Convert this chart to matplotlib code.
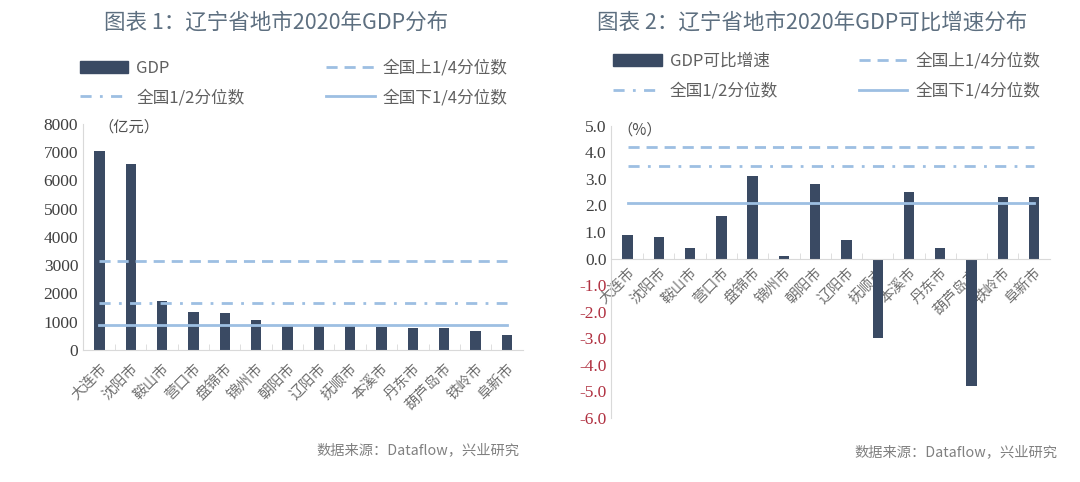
import numpy as np
import matplotlib.pyplot as plt
from matplotlib.lines import Line2D
from matplotlib.patches import Patch

plt.rcParams['font.family'] = ['Noto Sans CJK SC', 'DejaVu Sans']

cities = ['大连市', '沈阳市', '鞍山市', '营口市', '盘锦市', '锦州市', '朝阳市',
          '辽阳市', '抚顺市', '本溪市', '丹东市', '葫芦岛市', '铁岭市', '阜新市']
gdp = [7030, 6572, 1739, 1326, 1304, 1073, 885, 832, 840, 810, 787, 780, 682, 520]
gdp_q = [3130, 1660, 880]          # 上1/4, 1/2, 下1/4
growth = [0.9, 0.8, 0.4, 1.6, 3.1, 0.1, 2.8, 0.7, -3.0, 2.5, 0.4, -4.8, 2.3, 2.3]
growth_q = [4.2, 3.5, 2.1]

bar_c = '#3a4a63'
line_c = '#9dbfe2'
spine_c = '#d9d9d9'
title_c = '#5d6f80'
serif = ['Liberation Serif', 'DejaVu Serif']

fig = plt.figure(figsize=(10.8, 4.82), dpi=100)
ax1 = fig.add_axes([0.0769, 0.274, 0.407, 0.469])
ax2 = fig.add_axes([0.566, 0.133, 0.406, 0.606])

x = np.arange(len(cities))


def draw(ax, vals, q, label):
    ax.bar(x, vals, width=0.33, color=bar_c, zorder=2)
    ax.plot(x, [q[0]] * len(x), color=line_c, lw=2, ls=(0, (4, 2.5)), zorder=3)
    ax.plot(x, [q[1]] * len(x), color=line_c, lw=2, ls=(0, (4, 3, 1, 3)), zorder=3)
    ax.plot(x, [q[2]] * len(x), color=line_c, lw=2, zorder=3)
    ax.set_xlim(-0.52, 13.5)
    for s in ['top', 'right']:
        ax.spines[s].set_visible(False)
    for s in ['left', 'bottom']:
        ax.spines[s].set_color(spine_c)
    handles = [Patch(color=bar_c),
               Line2D([], [], color=line_c, lw=2, ls=(0, (4, 3, 1, 3))),
               Line2D([], [], color=line_c, lw=2, ls=(0, (4, 2.5))),
               Line2D([], [], color=line_c, lw=2)]
    labels = [label, '全国1/2分位数', '全国上1/4分位数', '全国下1/4分位数']
    return handles, labels


def axis_labels(ax, pad, yvals, fmt):
    ax.set_xticks(x)
    ax.set_xticks(x[:-1] + 0.5, minor=True)
    ax.tick_params(axis='x', which='major', length=0, pad=pad)
    ax.tick_params(axis='x', which='minor', length=4, direction='in', color=spine_c)
    ax.tick_params(axis='y', length=0)
    ax.set_xticklabels(cities, rotation=45, ha='right', rotation_mode='anchor',
                       fontsize=10.5, color='#707070')
    ax.set_yticks(yvals)
    ax.set_yticklabels([fmt % v for v in yvals], fontfamily=serif, fontsize=12.5,
                       color='#404040')


leg_kw = dict(ncol=2, loc='center left', frameon=False, fontsize=12,
              handlelength=2.9, handletextpad=0.5, labelspacing=0.75,
              labelcolor='#606060')

# 图表1
h, l = draw(ax1, gdp, gdp_q, 'GDP')
ax1.set_ylim(0, 8000)
axis_labels(ax1, 8, list(range(0, 8001, 1000)), '%d')
ax1.text(0.035, 0.985, '（亿元）', transform=ax1.transAxes, fontsize=11,
         color='#505050', va='center')
fig.legend(h, l, bbox_to_anchor=(0.060, 0.828), columnspacing=4.9, **leg_kw)

# 图表2
h, l = draw(ax2, growth, growth_q, 'GDP可比增速')
ax2.set_ylim(-6, 5)
ticks = np.arange(-6, 5.01, 1.0)
ax2.spines['bottom'].set_position(('data', 0))
axis_labels(ax2, 5, ticks, '%.1f')
for t, v in zip(ax2.get_yticklabels(), ticks):
    if v < 0:
        t.set_color('#b03040')
ax2.text(0.015, 0.985, '（%）', transform=ax2.transAxes, fontsize=11,
         color='#505050', va='center')
fig.legend(h, l, bbox_to_anchor=(0.554, 0.842), columnspacing=4.85, **leg_kw)

fig.text(0.256, 0.953, '图表 1：辽宁省地市2020年GDP分布', ha='center', va='center',
         fontsize=15.5, color=title_c, fontweight='medium')
fig.text(0.752, 0.953, '图表 2：辽宁省地市2020年GDP可比增速分布', ha='center', va='center',
         fontsize=15.5, color=title_c, fontweight='medium')
fig.text(0.481, 0.066, '数据来源：Dataflow，兴业研究', ha='right', va='center',
         fontsize=10.3, color='#808080')
fig.text(0.979, 0.062, '数据来源：Dataflow，兴业研究', ha='right', va='center',
         fontsize=10.3, color='#808080')

fig.savefig('out.png', dpi=100)
